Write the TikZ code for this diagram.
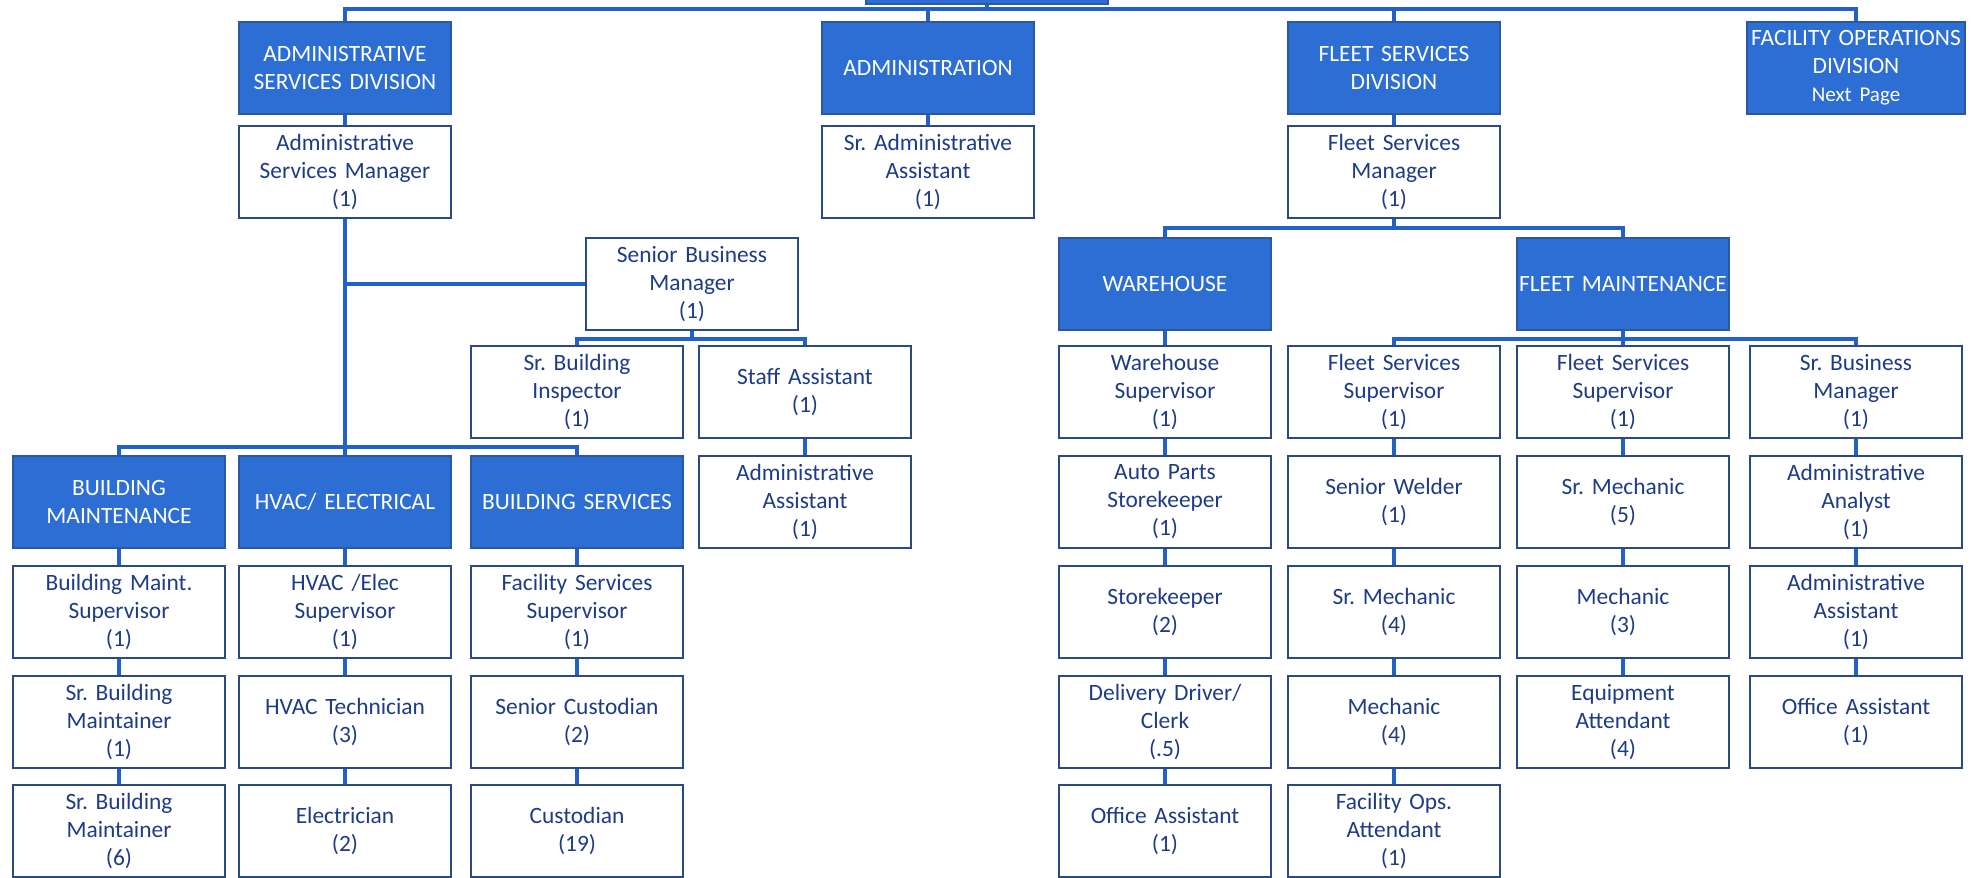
\documentclass[tikz,border=0pt]{standalone}
\usepackage{fontspec}
\setmainfont{Carlito}
\definecolor{boxblue}{HTML}{2C6ED4}
\definecolor{navy}{HTML}{1E3C86}
\definecolor{linkblue}{HTML}{2262C8}
\definecolor{edge}{HTML}{2A4A80}
\tikzset{
  base/.style={rectangle, minimum width=106pt, minimum height=46pt, inner sep=1pt,
    text width=104pt, align=center, font=\frenchspacing\fontsize{11.7}{14}\selectfont},
  wbox/.style={base, draw=edge, line width=1.3pt, fill=white, text=navy},
  bbox/.style={base, draw=edge!60!boxblue, line width=1.3pt, fill=boxblue, text=white},
  link/.style={draw=linkblue, line width=1.7pt}
}
\begin{document}
\begin{tikzpicture}[x=0.5pt, y=-0.5pt]
\useasboundingbox (0,0) rectangle (1982,878);
\clip (0,0) rectangle (1982,878);
\fill[white] (0,0) rectangle (1982,878);
% top (cut off) box
\node[bbox, minimum width=121pt] (top) at (987,-42) {};
% division row
\node[bbox] (asd) at (345,68) {ADMINISTRATIVE\\SERVICES DIVISION};
\node[bbox] (adm) at (928,68) {ADMINISTRATION};
\node[bbox] (fsd) at (1394,68) {FLEET SERVICES\\DIVISION};
\node[bbox, minimum width=107pt, text width=107pt] (fod) at (1856,68) {FACILITY OPERATIONS\\DIVISION\\{\fontsize{10.5}{13}\selectfont Next Page}};
% managers
\node[wbox] (asm) at (345,172) {Administrative\\Services Manager\\(1)};
\node[wbox] (saa) at (928,172) {Sr. Administrative\\Assistant\\(1)};
\node[wbox] (fsm) at (1394,172) {Fleet Services\\Manager\\(1)};
% left middle
\node[wbox] (sbm) at (692,284) {Senior Business\\Manager\\(1)};
\node[wbox] (sbi) at (577,392) {Sr. Building\\Inspector\\(1)};
\node[wbox] (sta) at (805,392) {Staff Assistant\\(1)};
\node[wbox] (aas) at (805,502) {Administrative\\Assistant\\(1)};
% left sections
\node[bbox] (bm) at (119,502) {BUILDING\\MAINTENANCE};
\node[bbox] (hv) at (345,502) {HVAC/ ELECTRICAL};
\node[bbox] (bs) at (577,502) {BUILDING SERVICES};
\node[wbox] (bm1) at (119,612) {Building Maint.\\Supervisor\\(1)};
\node[wbox] (bm2) at (119,722) {Sr. Building\\Maintainer\\(1)};
\node[wbox] (bm3) at (119,831) {Sr. Building\\Maintainer\\(6)};
\node[wbox] (hv1) at (345,612) {HVAC /Elec\\Supervisor\\(1)};
\node[wbox] (hv2) at (345,722) {HVAC Technician\\(3)};
\node[wbox] (hv3) at (345,831) {Electrician\\(2)};
\node[wbox] (bs1) at (577,612) {Facility Services\\Supervisor\\(1)};
\node[wbox] (bs2) at (577,722) {Senior Custodian\\(2)};
\node[wbox] (bs3) at (577,831) {Custodian\\(19)};
% fleet
\node[bbox] (wh) at (1165,284) {WAREHOUSE};
\node[bbox] (fm) at (1623,284) {FLEET MAINTENANCE};
\node[wbox] (w1) at (1165,392) {Warehouse\\Supervisor\\(1)};
\node[wbox] (w2) at (1165,502) {Auto Parts\\Storekeeper\\(1)};
\node[wbox] (w3) at (1165,612) {Storekeeper\\(2)};
\node[wbox] (w4) at (1165,722) {Delivery Driver/\\Clerk\\(.5)};
\node[wbox] (w5) at (1165,831) {Office Assistant\\(1)};
\node[wbox] (a1) at (1394,392) {Fleet Services\\Supervisor\\(1)};
\node[wbox] (a2) at (1394,502) {Senior Welder\\(1)};
\node[wbox] (a3) at (1394,612) {Sr. Mechanic\\(4)};
\node[wbox] (a4) at (1394,722) {Mechanic\\(4)};
\node[wbox] (a5) at (1394,831) {Facility Ops.\\Attendant\\(1)};
\node[wbox] (b1) at (1623,392) {Fleet Services\\Supervisor\\(1)};
\node[wbox] (b2) at (1623,502) {Sr. Mechanic\\(5)};
\node[wbox] (b3) at (1623,612) {Mechanic\\(3)};
\node[wbox] (b4) at (1623,722) {Equipment\\Attendant\\(4)};
\node[wbox] (c1) at (1856,392) {Sr. Business\\Manager\\(1)};
\node[wbox] (c2) at (1856,502) {Administrative\\Analyst\\(1)};
\node[wbox] (c3) at (1856,612) {Administrative\\Assistant\\(1)};
\node[wbox] (c4) at (1856,722) {Office Assistant\\(1)};
% bus coordinates
\coordinate (tb) at (0,9);
\coordinate (lb) at (0,447);
\coordinate (sb) at (0,339);
\coordinate (fb) at (0,228);
% connectors
\path[link] (top.south) -- (top.south |- tb);
\path[link] (asd.north) -- (asd.north |- tb) -- (fod.north |- tb) -- (fod.north);
\path[link] (adm.north) -- (adm.north |- tb);
\path[link] (fsd.north) -- (fsd.north |- tb);
\path[link] (asd) -- (asm);
\path[link] (adm) -- (saa);
\path[link] (fsd) -- (fsm);
\path[link] (asm.south) -- (hv.north);
\path[link] (asm.south |- sbm.west) -- (sbm.west);
\path[link] (sbm.south) -- (sbm.south |- sb);
\path[link] (sbi.north) -- (sbi.north |- sb) -- (sta.north |- sb) -- (sta.north);
\path[link] (sta) -- (aas);
\path[link] (bm.north) -- (bm.north |- lb) -- (bs.north |- lb) -- (bs.north);
\path[link] (bm) -- (bm1); \path[link] (bm1) -- (bm2); \path[link] (bm2) -- (bm3);
\path[link] (hv) -- (hv1); \path[link] (hv1) -- (hv2); \path[link] (hv2) -- (hv3);
\path[link] (bs) -- (bs1); \path[link] (bs1) -- (bs2); \path[link] (bs2) -- (bs3);
\path[link] (fsm.south) -- (fsm.south |- fb);
\path[link] (wh.north) -- (wh.north |- fb) -- (fm.north |- fb) -- (fm.north);
\path[link] (fm.south) -- (fm.south |- sb);
\path[link] (a1.north) -- (a1.north |- sb) -- (c1.north |- sb) -- (c1.north);
\path[link] (b1.north) -- (b1.north |- sb);
\path[link] (wh) -- (w1); \path[link] (w1) -- (w2); \path[link] (w2) -- (w3); \path[link] (w3) -- (w4); \path[link] (w4) -- (w5);
\path[link] (a1) -- (a2); \path[link] (a2) -- (a3); \path[link] (a3) -- (a4); \path[link] (a4) -- (a5);
\path[link] (b1) -- (b2); \path[link] (b2) -- (b3); \path[link] (b3) -- (b4);
\path[link] (c1) -- (c2); \path[link] (c2) -- (c3); \path[link] (c3) -- (c4);
\end{tikzpicture}
\end{document}
